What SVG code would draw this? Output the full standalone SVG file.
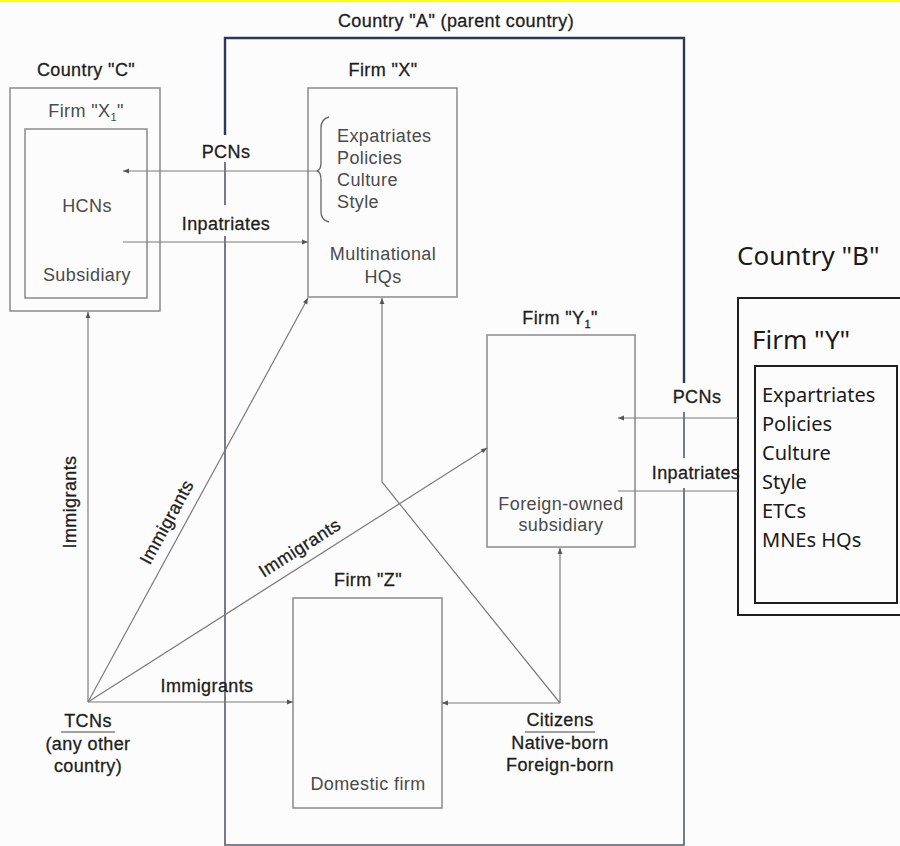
<svg xmlns="http://www.w3.org/2000/svg" width="900" height="846" viewBox="0 0 900 846">
<style>
.t{font-family:"Liberation Sans",Arial,sans-serif;font-size:18px;letter-spacing:0.4px;fill:#1e1e1e;stroke:#1e1e1e;stroke-width:0.3}
.g{font-family:"Liberation Sans",Arial,sans-serif;font-size:18px;letter-spacing:0.4px;fill:#4a4a4a}
.c{text-anchor:middle}
.b{font-family:"Noto Sans","Open Sans",sans-serif;fill:#1a1a1a}
.box{fill:none;stroke:#8a8a8a;stroke-width:1.5}
.ybox{fill:none;stroke:#1e1e1e;stroke-width:2}
.cn{fill:none;stroke:#7a7a7a;stroke-width:1.2}
.ar{marker-end:url(#ah)}
.ca{fill:none;stroke:#555a66;stroke-width:1.6}
.cad{fill:none;stroke:#2e3858;stroke-width:2.4}
</style>
<defs>
<marker id="ah" viewBox="0 0 10 10" refX="10" refY="5" markerWidth="7" markerHeight="6" markerUnits="userSpaceOnUse" orient="auto">
<path d="M0,1 L10,5 L0,9 z" fill="#555"/>
</marker>
</defs>
<rect width="900" height="846" fill="#fcfcfd"/>
<rect width="900" height="2" fill="#ffff00"/>

<g id="countryA">
<path class="cad" d="M225,135 V38 H684 V383"/>
<path class="ca" d="M225,162 V205 M225,236 V845 H684 V488 M684,412 V458"/>
<text class="t c" x="456" y="27">Country "A" (parent country)</text>
</g>

<g id="countryC">
<text class="t c" x="86" y="76">Country "C"</text>
<rect class="box" x="10" y="88" width="150" height="223"/>
<text class="g c" x="86" y="117">Firm "X<tspan font-size="11" dy="4">1</tspan><tspan dy="-4">"</tspan></text>
<rect class="box" x="25" y="129" width="122" height="169"/>
<text class="g c" x="87" y="212">HCNs</text>
<text class="g c" x="87" y="281">Subsidiary</text>
</g>

<g id="firmX">
<text class="t c" x="383" y="76">Firm "X"</text>
<rect class="box" x="308" y="88" width="149" height="209"/>
<path d="M329,117 Q321,119 321,128 V162 Q321,170 317,171 Q321,172 321,180 V212 Q321,220 329,222" fill="none" stroke="#666" stroke-width="1.3"/>
<text class="g" x="337" y="142">Expatriates</text>
<text class="g" x="337" y="164">Policies</text>
<text class="g" x="337" y="186">Culture</text>
<text class="g" x="337" y="208">Style</text>
<text class="g c" x="383" y="260">Multinational</text>
<text class="g c" x="383" y="283">HQs</text>
</g>

<g id="firmY1">
<text class="t c" x="560" y="324">Firm "Y<tspan font-size="11" dy="4">1</tspan><tspan dy="-4">"</tspan></text>
<rect class="box" x="487" y="335" width="148" height="212"/>
<text class="g c" x="561" y="510">Foreign-owned</text>
<text class="g c" x="561" y="531">subsidiary</text>
</g>

<g id="firmZ">
<text class="t c" x="368" y="586">Firm "Z"</text>
<rect class="box" x="293" y="598" width="149" height="210"/>
<text class="g c" x="368" y="790">Domestic firm</text>
</g>

<g id="countryB">
<text class="b" x="737" y="265" font-size="26">Country "B"</text>
<rect class="ybox" x="738" y="298" width="170" height="317"/>
<text class="b" x="752" y="349" font-size="26">Firm "Y"</text>
<rect class="ybox" x="755" y="366" width="142" height="237"/>
<text class="b" x="762" y="402" font-size="20">Expartriates</text>
<text class="b" x="762" y="431" font-size="20">Policies</text>
<text class="b" x="762" y="460" font-size="20">Culture</text>
<text class="b" x="762" y="489" font-size="20">Style</text>
<text class="b" x="762" y="518" font-size="20">ETCs</text>
<text class="b" x="762" y="547" font-size="20">MNEs HQs</text>
</g>

<g id="TCNs">
<text class="t c" x="88" y="727">TCNs</text>
<line x1="61" y1="732" x2="115" y2="732" stroke="#444" stroke-width="1.2"/>
<text class="t c" x="88" y="750">(any other</text>
<text class="t c" x="88" y="772">country)</text>
</g>

<g id="citizens">
<text class="t c" x="560" y="726">Citizens</text>
<line x1="525" y1="732" x2="595" y2="732" stroke="#444" stroke-width="1.2"/>
<text class="t c" x="560" y="749">Native-born</text>
<text class="t c" x="560" y="771">Foreign-born</text>
</g>

<g id="connectors">
<line class="cn ar" x1="318" y1="171" x2="123" y2="171"/>
<line class="cn ar" x1="123" y1="242" x2="308" y2="242"/>
<line class="cn ar" x1="738" y1="418" x2="618" y2="418"/>
<line class="cn" x1="618" y1="491" x2="738" y2="491"/>
<line class="cn ar" x1="88" y1="702" x2="88" y2="312"/>
<line class="cn ar" x1="88" y1="702" x2="308" y2="298"/>
<line class="cn ar" x1="88" y1="702" x2="487" y2="448"/>
<line class="cn ar" x1="88" y1="702" x2="293" y2="702"/>
<line class="cn ar" x1="560" y1="703" x2="442" y2="703"/>
<line class="cn ar" x1="560" y1="703" x2="560" y2="548"/>
<polyline class="cn ar" points="560,703 382,482 382,298"/>
<text class="t c" x="226" y="158">PCNs</text>
<text class="t c" x="226" y="230">Inpatriates</text>
<text class="t c" x="697" y="403">PCNs</text>
<text class="t c" x="696" y="479">Inpatriates</text>
<text class="t c" x="207" y="692">Immigrants</text>
<text class="t c" transform="translate(76,502) rotate(-90)">Immigrants</text>
<text class="t c" transform="translate(172,525) rotate(-61.4)">Immigrants</text>
<text class="t c" transform="translate(303,553) rotate(-32.5)">Immigrants</text>
</g>
</svg>
